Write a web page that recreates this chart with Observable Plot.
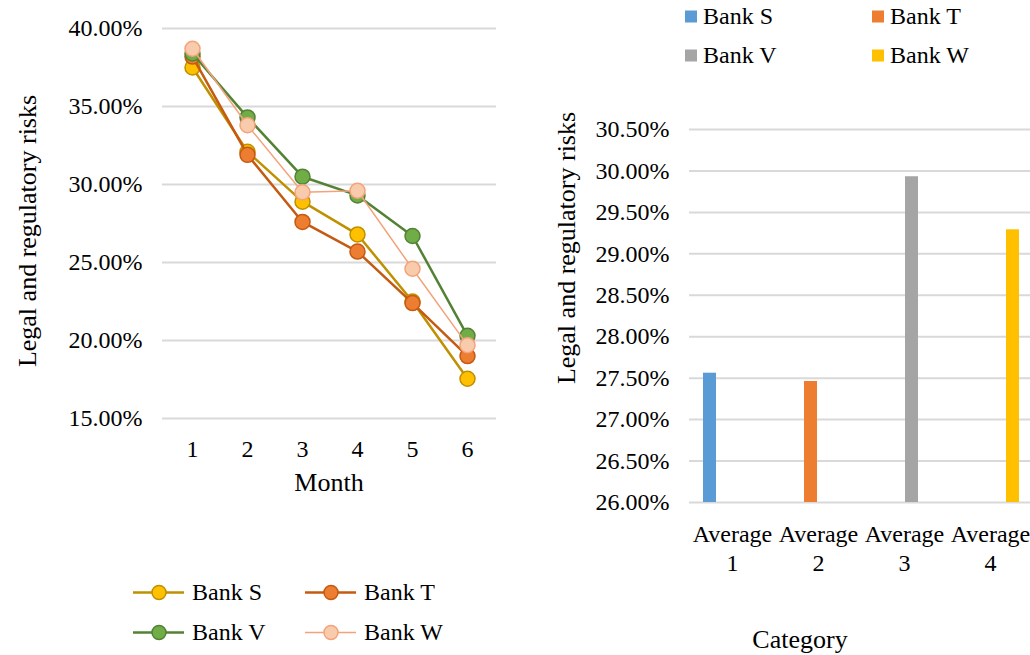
<!DOCTYPE html>
<html>
<head>
<meta charset="utf-8">
<script src="https://cdn.jsdelivr.net/npm/d3@7"></script>
<script src="https://cdn.jsdelivr.net/npm/@observablehq/plot@0.6"></script>
<style>
  html, body { margin: 0; padding: 0; background: #fff; overflow: hidden; }
  body { width: 1030px; height: 655px; position: relative; font-family: "Liberation Serif", "Times New Roman", serif; color: #000; }
  svg, svg text { font-family: "Liberation Serif", "Times New Roman", serif !important; }
  svg { max-width: none !important; }
  .abs { position: absolute; white-space: nowrap; }
  .title { font-size: 26px; }
  .rot { transform: translate(-50%, -50%) rotate(-90deg); }
  .ctr { transform: translate(-50%, -50%); }
  .leg { font-size: 24px; transform: translateY(-50%); }
  #left { position: absolute; left: 0; top: 0; width: 520px; }
  #right { position: absolute; left: 530px; top: 0; width: 520px; }
</style>
</head>
<body>
<div id="left"></div>
<div id="right"></div>
<script>
// ---------- data ----------
const months = [1, 2, 3, 4, 5, 6];
const banks = ["Bank S", "Bank T", "Bank V", "Bank W"];
const bankS = [37.5, 32.1, 28.9, 26.8, 22.5, 17.55];
const bankT = [38.2, 31.9, 27.6, 25.7, 22.4, 19.0];
const bankV = [38.4, 34.3, 30.5, 29.3, 26.7, 20.3];
const bankW = [38.7, 33.8, 29.5, 29.6, 24.6, 19.7];
const leftTicks = [15, 20, 25, 30, 35, 40];

const categories = ["Average 1", "Average 2", "Average 3", "Average 4"];
const averages = [27.56, 27.46, 29.93, 29.29];
const rightTicks = [26, 26.5, 27, 27.5, 28, 28.5, 29, 29.5, 30, 30.5];

// ---------- styles ----------
const FONT = "Liberation Serif";
const lineColors = ["#BF9000", "#C55A11", "#548235", "#F4A27A"];
const dotFills = ["#FFC000", "#ED7D31", "#70AD47", "#F8CBAD"];
const lineWidths = [2.5, 2.5, 2.5, 1.5];
const barColors = ["#5B9BD5", "#ED7D31", "#A5A5A5", "#FFC000"];
const pct = d => d.toFixed(2) + "%";

// ---------- left chart ----------
const seriesVals = [bankS, bankT, bankV, bankW];
const rows = banks.flatMap((b, i) => months.map((m, j) => ({bank: b, month: m, value: seriesVals[i][j]})));

const leftMarks = [
  Plot.ruleY(leftTicks, {stroke: "#D9D9D9", strokeWidth: 2})
];
banks.forEach((b, i) => {
  const d = rows.filter(r => r.bank === b);
  leftMarks.push(Plot.line(d, {x: "month", y: "value", stroke: lineColors[i], strokeWidth: lineWidths[i]}));
  leftMarks.push(Plot.dot(d, {x: "month", y: "value", r: 7.5, fill: dotFills[i], stroke: lineColors[i], strokeWidth: 1.5}));
});
leftMarks.push(Plot.axisX({tickSize: 0, tickPadding: 21, fontSize: 24, fontFamily: FONT, fill: "#000", label: null}));
leftMarks.push(Plot.axisY(leftTicks, {tickSize: 0, tickPadding: 20, fontSize: 24, fontFamily: FONT, fill: "#000", tickFormat: pct, label: null}));

const leftPlot = Plot.plot({
  width: 520, height: 655,
  marginLeft: 162, marginRight: 24, marginTop: 28, marginBottom: 237,
  style: {fontFamily: FONT, color: "#000", background: "transparent", overflow: "visible", maxWidth: "none"},
  x: {type: "point", domain: months, padding: 0.5},
  y: {domain: [15, 40]},
  marks: leftMarks
});
document.getElementById("left").appendChild(leftPlot);

// ---------- right chart ----------
const barRows = categories.map((c, i) => ({cat: c, bank: banks[i], value: averages[i]}));
const yMin = rightTicks[0];

const rightPlot = Plot.plot({
  width: 520, height: 655,
  marginLeft: 158, marginRight: 16, marginTop: 129, marginBottom: 153,
  style: {fontFamily: FONT, color: "#000", background: "transparent", overflow: "visible", maxWidth: "none"},
  fx: {domain: categories, padding: 0, label: null},
  x: {domain: banks, paddingInner: 0.145, paddingOuter: 0.92, axis: null},
  y: {domain: [26, 30.5]},
  color: {domain: banks, range: barColors},
  marks: [
    Plot.ruleY(rightTicks, {stroke: "#D9D9D9", strokeWidth: 2}),
    Plot.barY(barRows, {fx: "cat", x: "bank", y1: yMin, y2: "value", fill: "bank"}),
    Plot.axisFx({anchor: "bottom", tickSize: 0, tickPadding: 20, fontSize: 24, fontFamily: FONT, fill: "#000", lineHeight: 1.17,
                 tickFormat: d => d.replace(" ", "\n"), label: null}),
    Plot.axisY(rightTicks, {tickSize: 0, tickPadding: 20, fontSize: 24, fontFamily: FONT, fill: "#000", tickFormat: pct, label: null})
  ]
});
document.getElementById("right").appendChild(rightPlot);

// ---------- titles ----------
function addText(txt, x, y, cls) {
  const el = document.createElement("div");
  el.className = "abs " + cls;
  el.style.left = x + "px";
  el.style.top = y + "px";
  el.textContent = txt;
  document.body.appendChild(el);
  return el;
}
addText("Legal and regulatory risks", 28, 231, "title rot");
addText("Month", 329, 483, "title ctr");
addText("Legal and regulatory risks", 567, 248, "title rot");
addText("Category", 800, 640, "title ctr");

// ---------- left legend ----------
const leftLeg = [[133, 592], [305, 592], [133, 632], [305, 632]];
banks.forEach((b, i) => {
  const [x, y] = leftLeg[i];
  const el = document.createElement("div");
  el.className = "abs leg";
  el.style.left = x + "px";
  el.style.top = y + "px";
  el.style.display = "flex";
  el.style.alignItems = "center";
  el.innerHTML = `<svg width="52" height="20" style="margin-right:7px"><line x1="0" y1="10" x2="51" y2="10" stroke="${lineColors[i]}" stroke-width="${lineWidths[i]}"/><circle cx="26" cy="10" r="7" fill="${dotFills[i]}" stroke="${lineColors[i]}" stroke-width="1.5"/></svg><span>${b}</span>`;
  document.body.appendChild(el);
});

// ---------- right legend ----------
const rightLeg = [[685, 16], [872, 16], [685, 55], [872, 55]];
banks.forEach((b, i) => {
  const [x, y] = rightLeg[i];
  const el = document.createElement("div");
  el.className = "abs leg";
  el.style.left = x + "px";
  el.style.top = y + "px";
  el.style.display = "flex";
  el.style.alignItems = "center";
  el.innerHTML = `<span style="display:inline-block;width:12px;height:12px;background:${barColors[i]};margin-right:6px"></span><span>${b}</span>`;
  document.body.appendChild(el);
});
</script>
</body>
</html>
